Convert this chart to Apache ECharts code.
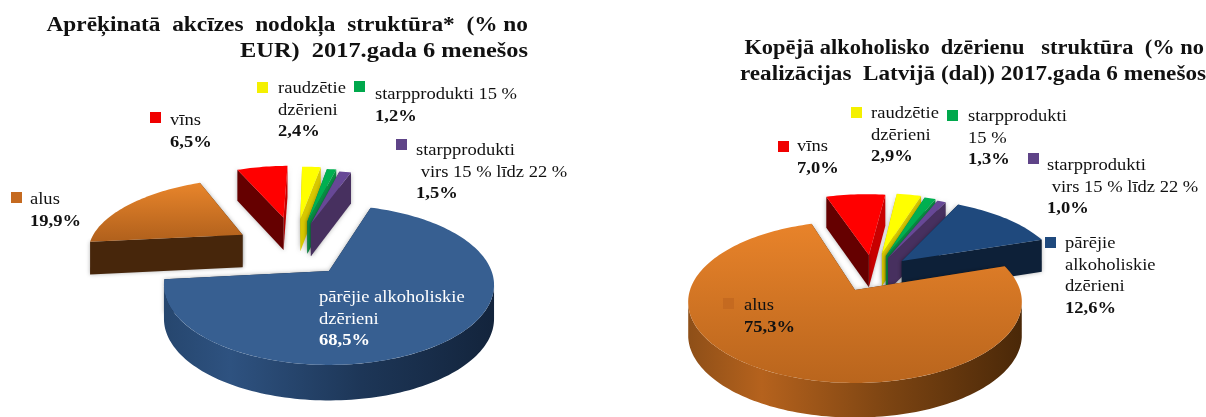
<!DOCTYPE html>
<html>
<head>
<meta charset="utf-8">
<style>html,body{margin:0;padding:0;background:#fff;overflow:hidden}#c{width:1206px;height:417px}</style>
<script src="https://cdn.jsdelivr.net/npm/echarts@6/dist/echarts.min.js"></script>
</head>
<body>
<div id="c"></div>
<script>
// ---- data ----
const categories = ['alus', 'vīns', 'raudzētie dzērieni', 'starpprodukti 15 %', 'starpprodukti virs 15 % līdz 22 %', 'pārējie alkoholiskie dzērieni'];
const exciseShares = [19.9, 6.5, 2.4, 1.2, 1.5, 68.5];
const volumeShares = [75.3, 7.0, 2.9, 1.3, 1.0, 12.6];
const exciseTitle = ['Aprēķinatā  akcīzes  nodokļa  struktūra*  (% no', 'EUR)  2017.gada 6 menešos'];
const volumeTitle = ['Kopējā alkoholisko  dzērienu   struktūra  (% no', 'realizācijas  Latvijā (dal)) 2017.gada 6 menešos'];
const exciseLabelLines = [['alus'], ['vīns'], ['raudzētie', 'dzērieni'], ['starpprodukti 15 %'], ['starpprodukti', ' virs 15 % līdz 22 %'], ['pārējie alkoholiskie', 'dzērieni']];
const volumeLabelLines = [['alus'], ['vīns'], ['raudzētie', 'dzērieni'], ['starpprodukti', '15 %'], ['starpprodukti', ' virs 15 % līdz 22 %'], ['pārējie', 'alkoholiskie', 'dzērieni']];

// ---- styling / layout ----
const orangeTop = (a, b) => ({type:'linear',x:0,y:0,x2:0,y2:1,colorStops:[{offset:0,color:a},{offset:1,color:b}]});
const sliceColors = [
  {top:orangeTop('#e8852b','#b0601c'), start:'#47260b', end:'#47260b', mark:'#c56a20'},
  {top:'#ff0000', start:'#650000', end:'#c80000', mark:'#f00000'},
  {top:'#ffff00', start:'#c8b800', end:'#d9c900', mark:'#f4f000'},
  {top:'#00b050', start:'#087a3c', end:'#0a8f45', mark:'#00a84c'},
  {top:'#674896', start:'#47305f', end:'#47305f', mark:'#5f4488'},
  {top:'#375f91', start:'#0d2038', end:'#0d2038', mark:'#375f91'}
];
const wallStops = {
  blue: [[0,'#26466e'],[.2,'#2e5280'],[.6,'#1d3657'],[1,'#13243c']],
  orange: [[0,'#8e4f18'],[.22,'#b5621d'],[.6,'#7c4412'],[1,'#4a2808']]
};
const excisePie = {
  cx:329, cy:271, rx:162.5, ry:77.5, k:.175, depth:33.5, startAngle:264, order:[0,1,2,3,4,5],
  explode:[[-.58,.51],[-.318,.78],[-.2,.76],[-.15,.72],[-.125,.68],[0,0]],
  wall:['orange',null,null,null,null,'blue'],
  topOverride:{},
  markers:[[11,192],[150,112],[257,82],[354,81],[396,139],[298,277]],
  labels:[[30,200],[170,121],[278,89],[375,95],[416,151],[319,298]],
  labelFill:['#111','#111','#111','#111','#111','#fff'],
  lines:exciseLabelLines, values:exciseShares
};
const volumePie = {
  cx:855, cy:290, rx:165, ry:79.2, k:.148, depth:33, startAngle:71.7, order:[5,0,1,2,3,4],
  explode:[[0,0],[.09,.473],[.175,.49],[.2,.46],[.213,.43],[.3,.387]],
  wall:['orange',null,null,null,null,'blue'],
  topOverride:{0:orangeTop('#e8832a','#b9651d'), 5:'#1f497d'},
  markers:[[723,298],[778,141],[851,107],[947,110],[1028,153],[1045,237]],
  labels:[[744,306],[797,147],[871,114],[968,117],[1047,166],[1065,244]],
  labelFill:['#111','#111','#111','#111','#111','#111'],
  lines:volumeLabelLines, values:volumeShares
};
const serif = '"Liberation Serif","DejaVu Serif",serif';
const labelSize = 17, lineH = 21.5, labelStretch = 1.09;
const wallShadow = {shadowBlur:4, shadowColor:'rgba(0,0,0,.3)'};

function project(p, X, Y, down) {
  const w = 1 + p.k * Y;
  return [p.cx + p.rx * X / w, p.cy - p.ry * Y / w + (down ? p.depth / Math.pow(w, .3) : 0)];
}
function rim(p, deg, off, down) {
  const r = deg * Math.PI / 180;
  return project(p, Math.sin(r) + off[0], Math.cos(r) + off[1], down);
}
function arcAngles(a, b) {
  const out = [];
  for (let d = a; d < b; d += 1.5) out.push(d);
  out.push(b);
  return out;
}
function makeRender(p) {
  const total = p.values.reduce((s, v) => s + v, 0);
  return function (params, api) {
    const i = params.dataIndex, value = api.value(0);
    let before = 0;
    for (let j = 0; j < i; j++) before += p.values[j];
    const a0 = p.startAngle + before / total * 360;
    const a1 = a0 + value / total * 360;
    const off = p.explode[i], c = sliceColors[i];
    const z2 = 10 + p.order[i] * 10;
    const apexT = project(p, off[0], off[1], false), apexB = project(p, off[0], off[1], true);
    const walls = [];
    const radial = (deg, fill) => {
      const t = rim(p, deg, off, false), b = rim(p, deg, off, true);
      walls.push({avg:(t[1] + apexT[1]) / 2, fill, pts:[apexT, t, b, apexB]});
    };
    radial(a0, c.start);
    radial(a1, c.end);
    walls.sort((m, n) => m.avg - n.avg);
    const children = walls.map(w => ({type:'polygon', z2, shape:{points:w.pts}, style:Object.assign({fill:w.fill}, wallShadow)}));
    // visible front part of the outer wall (100..260 degrees clockwise from the back)
    [0, 360].forEach(turn => {
      const from = Math.max(a0, 100 + turn), to = Math.min(a1, 260 + turn);
      if (to > from && p.wall[i]) {
        const angs = arcAngles(from, to);
        const pts = angs.map(d => rim(p, d, off, false)).concat(angs.slice().reverse().map(d => rim(p, d, off, true)));
        children.push({type:'polygon', z2, shape:{points:pts}, style:{fill:{type:'linear',x:0,y:0,x2:1,y2:0,
          colorStops:wallStops[p.wall[i]].map(s => ({offset:s[0], color:s[1]}))}}});
      }
    });
    const topPts = [apexT].concat(arcAngles(a0, a1).map(d => rim(p, d, off, false)));
    children.push({type:'polygon', z2, shape:{points:topPts}, style:{fill:p.topOverride[i] || c.top}});
    // legend key and label
    const m = p.markers[i], l = p.labels[i];
    const markFill = (i === 5 && p.topOverride[5]) ? p.topOverride[5] : c.mark;
    children.push({type:'rect', z2:200, shape:{x:m[0], y:m[1], width:11, height:11}, style:{fill:markFill}});
    const txt = p.lines[i].map(s => '{n|' + s + '}').concat('{v|' + value.toFixed(1).replace('.', ',') + '%}').join('\n');
    children.push({type:'text', z2:200, x:l[0], y:l[1] - lineH / 2, scaleX:labelStretch, style:{
      text:txt, fill:p.labelFill[i], align:'left', verticalAlign:'top',
      rich:{
        n:{fontFamily:serif, fontSize:labelSize, lineHeight:lineH, fill:p.labelFill[i]},
        v:{fontFamily:serif, fontSize:labelSize, fontWeight:'bold', lineHeight:lineH, fill:p.labelFill[i]}
      }
    }});
    return {type:'group', children};
  };
}
function seriesFor(p) {
  return {type:'custom', coordinateSystem:'none', renderItem:makeRender(p), clip:false, silent:true,
    data:p.values.map((v, i) => ({name:categories[i], value:[v]}))};
}
function titleLine(text, right, cy, stretch) {
  return {type:'text', x:right, y:cy, scaleX:stretch, silent:true, z:10, style:{
    text, fill:'#111', align:'right', verticalAlign:'middle',
    fontFamily:serif, fontSize:20.5, fontWeight:'bold'}};
}
const chart = echarts.init(document.getElementById('c'), null, {renderer:'canvas', width:1206, height:417});
chart.setOption({
  animation:false,
  backgroundColor:'#fff',
  graphic:[
    titleLine(exciseTitle[0], 528, 26, 1.138),
    titleLine(exciseTitle[1], 528, 52, 1.19),
    titleLine(volumeTitle[0], 1204, 49, 1.095),
    titleLine(volumeTitle[1], 1206, 75, 1.13)
  ],
  series:[seriesFor(excisePie), seriesFor(volumePie)]
});
</script>
</body>
</html>
